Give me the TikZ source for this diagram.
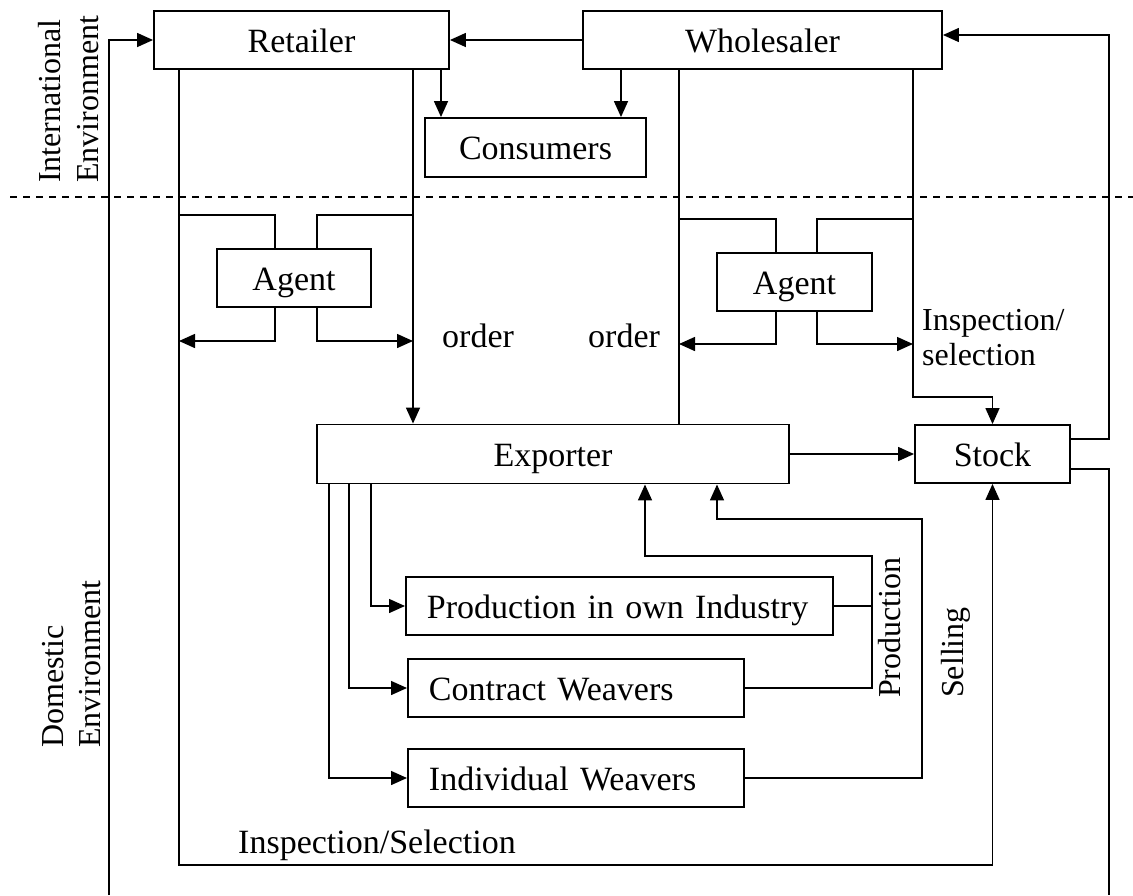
\documentclass[tikz,border=0pt]{standalone}
\usepackage{fontspec}
\setmainfont{Liberation Serif}
\usetikzlibrary{arrows.meta}
\newcommand\diagfont{\fontsize{34}{40}\selectfont}
\newcommand\diagsmall{\fontsize{32}{38}\selectfont}
\begin{document}
\begin{tikzpicture}[x=1pt,y=-1pt,
  box/.style={draw, line width=1.9pt, inner sep=0pt, minimum height=58pt, text height=24pt, text depth=0pt, font=\diagfont},
  lbox/.style={box, anchor=west, align=left, inner xsep=21pt},
  ln/.style={line width=1.5pt},
  arr/.style={ln, -{Triangle[length=16pt,width=14pt]}},
  lbl/.style={inner sep=0pt, font=\diagfont},
  slbl/.style={inner sep=0pt, font=\diagsmall}]
\useasboundingbox (0,0) rectangle (1133,895);

% boxes
\node[box, minimum width=295pt] (ret) at (301.5,40) {Retailer};
\node[box, minimum width=359pt] (whole) at (762.5,40) {Wholesaler};
\node[box, minimum width=221pt, minimum height=59pt] (cons) at (535.5,147.5) {Consumers};
\node[box, minimum width=154pt] (ag1) at (294,278) {Agent};
\node[box, minimum width=155pt] (ag2) at (794.5,282) {Agent};
\node[box, minimum width=472pt, minimum height=59pt] (exp) at (553,454) {Exporter};
\node[box, minimum width=155pt] (stock) at (992.5,454) {Stock};
\node[lbox, text width=385pt] (prod) at (405,606) {Production in own Industry};
\node[lbox, text width=294pt] (contr) at (407,688) {Contract Weavers};
\node[lbox, text width=294pt] (indiv) at (407,778) {Individual Weavers};

% border between environments
\coordinate (dl) at (10,197);
\coordinate (dr) at (1133,197);
\draw[line width=1.2pt, dash pattern=on 7pt off 6pt] (dl) -- (dr);

% free ends at the bottom edge
\coordinate (bl) at (109,895);
\coordinate (br) at (1109,895);

% top level
\draw[arr] (bl) |- (ret.west);
\draw[arr] (whole.west) -- (ret.east);
\draw[arr] (441,0 |- ret.south) -- (441,0 |- cons.north);
\draw[arr] (621,0 |- whole.south) -- (621,0 |- cons.north);

% retailer lines
\draw[arr] (179,0 |- ret.south) -- (179,865) -| (stock.south);
\draw[arr] (413,0 |- ret.south) -- (413,0 |- exp.north);
\draw[ln] (179,215) -| (275,0 |- ag1.north);
\draw[ln] (413,215) -| (317,0 |- ag1.north);
\draw[arr] (275,0 |- ag1.south) |- (179,341);
\draw[arr] (317,0 |- ag1.south) |- (413,341);

% wholesaler lines
\draw[ln] (679,0 |- whole.south) -- (679,0 |- exp.north);
\draw[arr] (913,0 |- whole.south) |- (stock.north |- 0,397) -- (stock.north);
\draw[ln] (679,219) -| (776,0 |- ag2.north);
\draw[ln] (913,219) -| (817,0 |- ag2.north);
\draw[arr] (776,0 |- ag2.south) |- (679,344);
\draw[arr] (817,0 |- ag2.south) |- (913,344);

% stock lines
\draw[arr] (stock.east |- 0,439) -| (1109,35) -- (whole.east |- 0,35);
\draw[ln] (stock.east |- 0,469) -| (br);
\draw[arr] (exp.east) -- (stock.west);

% exporter to producers
\draw[arr] (371,0 |- exp.south) |- (prod.west);
\draw[arr] (349,0 |- exp.south) |- (contr.west);
\draw[arr] (329,0 |- exp.south) |- (indiv.west);

% production back to exporter
\draw[ln] (prod.east) -- (872,0 |- prod.east);
\draw[arr] (contr.east) -| (872,556) -| (645,0 |- exp.south);
\draw[arr] (indiv.east) -| (922,519) -| (717,0 |- exp.south);

% labels
\node[lbl, anchor=base west] (o1) at (442,347) {order};
\node[lbl, anchor=base west] (o2) at (588,347) {order};
\node[slbl, anchor=base west] (is1) at (922,330) {Inspection/};
\node[slbl, anchor=base west] (is2) at (922,365) {selection};
\node[lbl, anchor=base west] (insel) at (238,853) {Inspection/Selection};
\node[slbl, rotate=90, anchor=base west] (prodl) at (900,698) {Production};
\node[slbl, rotate=90, anchor=base west] (sell) at (963,698) {Selling};
\node[slbl, rotate=90, anchor=base west] (intl) at (60,183) {International};
\node[slbl, rotate=90, anchor=base west] (env1) at (98,183) {Environment};
\node[slbl, rotate=90, anchor=base west] (dom) at (63,748) {Domestic};
\node[slbl, rotate=90, anchor=base west] (env2) at (100,748) {Environment};
\end{tikzpicture}
\end{document}
